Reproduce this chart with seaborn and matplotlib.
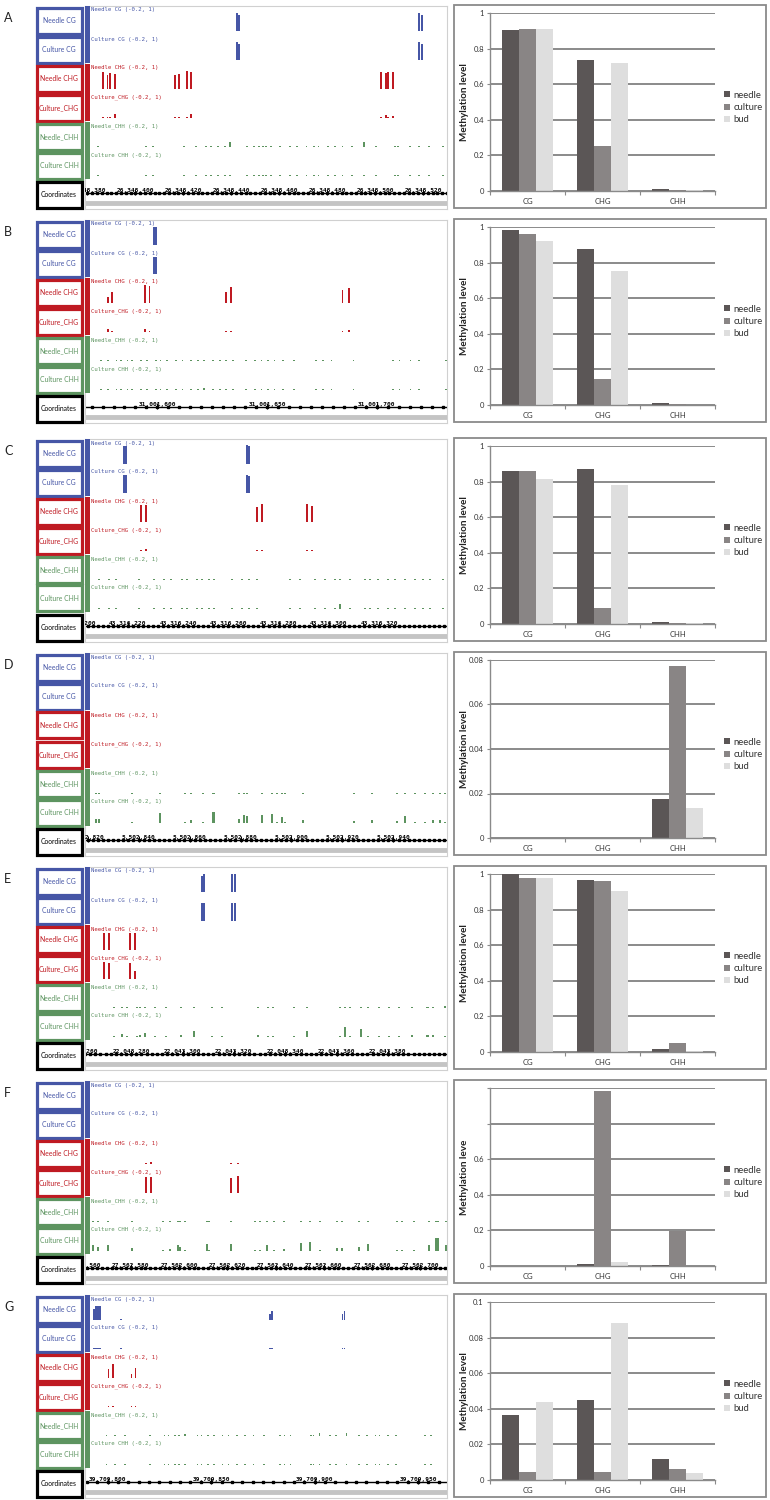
import numpy as np
import pandas as pd
import matplotlib
matplotlib.use("Agg")
import matplotlib.pyplot as plt
from matplotlib.patches import Rectangle
import seaborn as sns

# ---- bar chart data (methylation level per context) ----
contexts = ["CG", "CHG", "CHH"]
tissues = ["needle", "culture", "bud"]
tissue_colors = ["#5b5656", "#898585", "#dedede"]

A_needle = [0.906, 0.737, 0.009]
A_culture = [0.908, 0.254, 0.007]
A_bud = [0.910, 0.718, 0.005]
B_needle = [0.984, 0.879, 0.009]
B_culture = [0.963, 0.146, 0.003]
B_bud = [0.922, 0.755, 0.002]
C_needle = [0.858, 0.873, 0.009]
C_culture = [0.861, 0.090, 0.008]
C_bud = [0.817, 0.780, 0.005]
D_needle = [0.0, 0.0, 0.0176]
D_culture = [0.0, 0.0, 0.0773]
D_bud = [0.0, 0.0, 0.0136]
E_needle = [1.0, 0.966, 0.015]
E_culture = [0.978, 0.960, 0.050]
E_bud = [0.980, 0.905, 0.004]
F_needle = [0.0, 0.011, 0.004]
F_culture = [0.0, 0.983, 0.198]
F_bud = [0.0, 0.021, 0.0]
G_needle = [0.0363, 0.0450, 0.0119]
G_culture = [0.0043, 0.0047, 0.0063]
G_bud = [0.0441, 0.0883, 0.0041]

# ---- genome browser windows (first base, span in bp) ----
A_start, A_span = 26345379, 151
B_start, B_span = 31001567, 165
C_start, C_span = 43316203, 144
D_start, D_span = 5502819, 142
E_start, E_span = 22043262, 141
F_start, F_span = 27562561, 150
G_start, G_span = 39709789, 175

# ---- browser tracks: site offsets from window start and methylation ----
A_cg_pos = [63, 64, 139, 140]
A_cg_needle = [0.95, 0.85, 0.95, 0.85]
A_cg_culture = [0.95, 0.85, 0.95, 0.85]
A_chg_pos = [7, 9, 10, 12, 37, 39, 42, 44, 123, 125, 126, 128]
A_chg_needle = [0.9, 0.75, 0.85, 0.8, 0.75, 0.8, 0.95, 0.9, 0.9, 0.85, 0.9, 0.9]
A_chg_culture = [0.05, 0.02, 0.02, 0.2, 0.02, 0.02, 0.02, 0.2, 0.02, 0.15, 0.05, 0.12]
A_chh_pos = [5, 25, 28, 41, 46, 50, 52, 55, 58, 60, 67, 70, 72, 74, 75, 77, 81,
             85, 88, 92, 95, 97, 101, 104, 107, 111, 116, 121, 129, 130, 135, 139, 143, 149]
A_chh_needle = [0.04, 0, 0, 0, 0, 0, 0, 0, 0, 0.25, 0, 0, 0, 0, 0, 0, 0,
                0, 0, 0, 0, 0, 0, 0, 0, 0, 0.25, 0, 0, 0, 0, 0, 0, 0]
A_chh_culture = [0.03, 0, 0, 0, 0, 0, 0, 0, 0, 0, 0, 0, 0, 0.06, 0, 0, 0,
                 0, 0, 0, 0, 0, 0, 0, 0, 0, 0, 0, 0, 0, 0, 0, 0, 0]

B_cg_pos = [31, 32]
B_cg_needle = [0.95, 0.95]
B_cg_culture = [0.9, 0.9]
B_chg_pos = [10, 12, 27, 29, 64, 66, 117, 120]
B_chg_needle = [0.3, 0.6, 0.95, 0.9, 0.6, 0.85, 0.7, 0.8]
B_chg_culture = [0.15, 0.05, 0.15, 0.02, 0.02, 0.02, 0.02, 0.12]
B_chh_pos = [7, 10, 14, 16, 19, 21, 25, 28, 32, 34, 37, 41, 44, 48, 51, 54, 58, 61,
             64, 67, 73, 77, 80, 83, 86, 90, 95, 105, 108, 112, 122, 140, 143, 148, 152, 164]
B_chh_needle = [0, 0, 0, 0, 0, 0, 0, 0, 0, 0, 0, 0, 0, 0, 0.06, 0, 0, 0,
                0, 0, 0, 0, 0, 0, 0, 0, 0, 0, 0.06, 0, 0, 0, 0, 0, 0, 0]
B_chh_culture = [0, 0, 0, 0, 0, 0, 0, 0, 0, 0, 0, 0, 0, 0, 0, 0.08, 0, 0,
                 0, 0, 0, 0, 0, 0, 0, 0, 0, 0, 0, 0, 0, 0, 0, 0, 0, 0]

C_cg_pos = [15, 16, 64, 65]
C_cg_needle = [0.95, 0.95, 1.0, 0.95]
C_cg_culture = [0.95, 0.95, 0.95, 0.9]
C_chg_pos = [22, 24, 68, 70, 88, 90]
C_chg_needle = [0.9, 0.9, 0.8, 0.95, 0.95, 0.85]
C_chg_culture = [0.02, 0.12, 0.02, 0.02, 0.02, 0.06]
C_chh_pos = [5, 9, 12, 21, 27, 31, 34, 38, 40, 44, 46, 49, 51, 58, 62, 65, 68,
             81, 85, 91, 95, 99, 101, 105, 111, 113, 116, 120, 123, 127, 131, 134, 137, 142]
C_chh_needle = [0, 0, 0.04, 0, 0, 0, 0, 0, 0, 0, 0, 0, 0, 0, 0, 0, 0,
                0, 0, 0, 0, 0, 0, 0, 0, 0, 0, 0, 0, 0, 0, 0, 0, 0]
C_chh_culture = [0, 0, 0, 0, 0, 0, 0, 0, 0, 0.06, 0, 0, 0, 0, 0, 0, 0,
                 0, 0, 0, 0, 0, 0.25, 0, 0, 0, 0, 0, 0, 0, 0, 0, 0.05, 0]

D_cg_pos = []
D_cg_needle = []
D_cg_culture = []
D_chg_pos = []
D_chg_needle = []
D_chg_culture = []
D_chh_pos = [4, 5, 18, 29, 39, 41, 46, 50, 60, 62, 63, 69, 73, 75, 77, 78, 85,
             105, 112, 122, 125, 129, 133, 136, 139, 141]
D_chh_needle = [0, 0, 0, 0, 0, 0, 0, 0, 0, 0, 0, 0, 0, 0, 0, 0, 0,
                0, 0, 0.05, 0, 0, 0, 0, 0.05, 0]
D_chh_culture = [0.2, 0.2, 0.02, 0.55, 0.02, 0.15, 0.02, 0.6, 0.2, 0.4, 0.35, 0.4, 0.45,
                 0.02, 0.3, 0.02, 0.15, 0.1, 0.15, 0.1, 0.35, 0.02, 0.02, 0.15, 0.15, 0.05]

E_cg_pos = [45, 46, 57, 58]
E_cg_needle = [0.85, 0.95, 0.95, 0.95]
E_cg_culture = [0.95, 0.95, 0.95, 0.95]
E_chg_pos = [7, 9, 17, 19]
E_chg_needle = [0.9, 0.9, 0.9, 0.9]
E_chg_culture = [0.9, 0.85, 0.85, 0.4]
E_chh_pos = [11, 14, 16, 20, 21, 23, 27, 31, 37, 42, 49, 53, 67, 71, 73, 81, 86,
             99, 101, 103, 107, 110, 114, 118, 122, 127, 133, 135, 140]
E_chh_needle = [0, 0, 0, 0, 0, 0, 0, 0, 0, 0, 0, 0, 0, 0, 0, 0, 0,
                0.04, 0, 0, 0, 0, 0, 0, 0, 0, 0, 0, 0.08]
E_chh_culture = [0, 0.15, 0, 0, 0.08, 0.2, 0, 0, 0.12, 0.3, 0, 0.05, 0.1, 0, 0.05, 0, 0.3,
                 0, 0.55, 0, 0.4, 0, 0, 0, 0, 0.08, 0.08, 0.08, 0]

F_cg_pos = []
F_cg_needle = []
F_cg_culture = []
F_chg_pos = [25, 27, 60, 63]
F_chg_needle = [0.02, 0.12, 0.02, 0.02]
F_chg_culture = [0.85, 0.85, 0.8, 0.9]
F_chh_pos = [3, 5, 9, 19, 32, 35, 38, 39, 41, 50, 51, 60, 70, 72, 75, 78, 82, 89,
             93, 97, 104, 106, 113, 117, 129, 131, 136, 142, 145, 146, 149]
F_chh_needle = [0, 0, 0.05, 0, 0, 0, 0, 0, 0, 0, 0, 0, 0, 0, 0.05, 0, 0, 0,
                0, 0, 0, 0, 0, 0, 0, 0, 0, 0, 0, 0, 0]
F_chh_culture = [0.3, 0.2, 0.3, 0.15, 0.02, 0.1, 0.3, 0.2, 0.02, 0.35, 0.02, 0.35, 0.02,
                 0.05, 0.3, 0.02, 0.1, 0.4, 0.5, 0.02, 0.15, 0.15, 0.2, 0.35, 0.05, 0.05,
                 0.02, 0.3, 0.7, 0.7, 0.3]

G_cg_pos = [4, 5, 6, 7, 17, 89, 90, 124, 125]
G_cg_needle = [0.6, 0.75, 0.75, 0.75, 0.04, 0.3, 0.45, 0.3, 0.45]
G_cg_culture = [0.04, 0.03, 0.03, 0, 0.02, 0.05, 0, 0.02, 0]
G_chg_pos = [11, 13, 22, 24]
G_chg_needle = [0.45, 0.75, 0.2, 0.55]
G_chg_culture = [0.02, 0.02, 0.02, 0.02]
G_chh_pos = [10, 14, 19, 31, 38, 40, 43, 45, 48, 54, 56, 59, 62, 66, 69, 73, 77, 81,
             86, 94, 96, 99, 109, 110, 113, 118, 121, 126, 132, 136, 140, 142, 146, 150, 164, 167]
G_chh_needle = [0, 0.04, 0, 0, 0, 0, 0, 0.05, 0.1, 0, 0, 0, 0, 0, 0, 0, 0, 0,
                0, 0, 0, 0, 0, 0, 0.15, 0.05, 0, 0.15, 0, 0, 0, 0.04, 0, 0, 0, 0]
G_chh_culture = [0] * len(G_chh_pos)

# ---- styling ----
sns.set_theme(style="white")
plt.rcParams["font.family"] = ["Lato", "DejaVu Sans"]

W, H = 770, 1500
fig = plt.figure(figsize=(7.7, 15), dpi=100)

BLUE = "#4656a6"
RED = "#bf1a22"
GREEN = "#5d9460"
box_names = ["Needle CG", "Culture CG", "Needle CHG", "Culture_CHG",
             "Needle_CHH", "Culture CHH", "Coordinates"]
box_colors = [BLUE, BLUE, RED, RED, GREEN, GREEN, "black"]
track_titles = ["Needle CG", "Culture CG", "Needle CHG", "Culture_CHG",
                "Needle_CHH", "Culture CHH"]


def px_axes(x0, y0, x1, y1):
    return fig.add_axes([x0 / W, 1 - y1 / H, (x1 - x0) / W, (y1 - y0) / H])


def add_box(x0, y0, x1, y1, color, lw, fill=False):
    fig.add_artist(Rectangle((x0 / W, 1 - y1 / H), (x1 - x0) / W, (y1 - y0) / H,
                             transform=fig.transFigure, fill=fill,
                             facecolor=color if fill else "none",
                             edgecolor=color, linewidth=lw))


def draw_sites(ax, start, pos, vals, track, color):
    if len(pos) == 0:
        return
    base = 6 - track + 0.14
    h = np.maximum(np.array(vals, dtype=float) * 0.65, 0.035)
    ax.bar(start + np.array(pos), h, bottom=base, width=0.8, color=color,
           linewidth=0, align="edge")


rows = [
    ("A", 6, A_start, A_span, 20, 2, A_needle, A_culture, A_bud,
     (A_cg_pos, A_cg_needle, A_cg_culture), (A_chg_pos, A_chg_needle, A_chg_culture),
     (A_chh_pos, A_chh_needle, A_chh_culture)),
    ("B", 220, B_start, B_span, 50, 5, B_needle, B_culture, B_bud,
     (B_cg_pos, B_cg_needle, B_cg_culture), (B_chg_pos, B_chg_needle, B_chg_culture),
     (B_chh_pos, B_chh_needle, B_chh_culture)),
    ("C", 439, C_start, C_span, 20, 2, C_needle, C_culture, C_bud,
     (C_cg_pos, C_cg_needle, C_cg_culture), (C_chg_pos, C_chg_needle, C_chg_culture),
     (C_chh_pos, C_chh_needle, C_chh_culture)),
    ("D", 653, D_start, D_span, 20, 2, D_needle, D_culture, D_bud,
     (D_cg_pos, D_cg_needle, D_cg_culture), (D_chg_pos, D_chg_needle, D_chg_culture),
     (D_chh_pos, D_chh_needle, D_chh_culture)),
    ("E", 867, E_start, E_span, 20, 2, E_needle, E_culture, E_bud,
     (E_cg_pos, E_cg_needle, E_cg_culture), (E_chg_pos, E_chg_needle, E_chg_culture),
     (E_chh_pos, E_chh_needle, E_chh_culture)),
    ("F", 1081, F_start, F_span, 20, 2, F_needle, F_culture, F_bud,
     (F_cg_pos, F_cg_needle, F_cg_culture), (F_chg_pos, F_chg_needle, F_chg_culture),
     (F_chh_pos, F_chh_needle, F_chh_culture)),
    ("G", 1295, G_start, G_span, 50, 5, G_needle, G_culture, G_bud,
     (G_cg_pos, G_cg_needle, G_cg_culture), (G_chg_pos, G_chg_needle, G_chg_culture),
     (G_chh_pos, G_chh_needle, G_chh_culture)),
]

yscales = {
    "A": ([0, 0.2, 0.4, 0.6, 0.8, 1.0], ["0", "0.2", "0.4", "0.6", "0.8", "1"]),
    "B": ([0, 0.2, 0.4, 0.6, 0.8, 1.0], ["0", "0.2", "0.4", "0.6", "0.8", "1"]),
    "C": ([0, 0.2, 0.4, 0.6, 0.8, 1.0], ["0", "0.2", "0.4", "0.6", "0.8", "1"]),
    "D": ([0, 0.02, 0.04, 0.06, 0.08], ["0", "0.02", "0.04", "0.06", "0.08"]),
    "E": ([0, 0.2, 0.4, 0.6, 0.8, 1.0], ["0", "0.2", "0.4", "0.6", "0.8", "1"]),
    "F": ([0, 0.2, 0.4, 0.6, 0.8, 1.0], ["0", "0.2", "0.4", "0.6", "", ""]),
    "G": ([0, 0.02, 0.04, 0.06, 0.08, 0.1], ["0", "0.02", "0.04", "0.06", "0.08", "0.1"]),
}

TH = 29  # track height in px

for (letter, top, start, span, lab_step, dot_step, nd, cu, bd,
     cg, chg, chh) in rows:
    fig.text(4 / W, 1 - (top + 12) / H, letter, fontsize=9, color="#222222",
             ha="left", va="center")

    # label boxes on the left
    for k, (name, col) in enumerate(zip(box_names, box_colors)):
        y0 = top + k * TH + 1.5
        y1 = top + (k + 1) * TH - 1.5
        add_box(36.5, y0, 81.5, y1, col, 2.3)
        fig.text(59 / W, 1 - (y0 + y1) / 2 / H, name, fontsize=4.9, color=col,
                 ha="center", va="center")

    # coloured strips next to the tracks
    for k0, col in [(0, BLUE), (2, RED), (4, GREEN)]:
        add_box(85, top + k0 * TH, 89.5, top + (k0 + 2) * TH - 1, col, 0, fill=True)

    # track panel
    tax = px_axes(85, top, 447, top + 7 * TH)
    tax.set_xlim(start, start + span)
    tax.set_ylim(0, 7)
    tax.set_xticks([])
    tax.set_yticks([])
    for s in tax.spines.values():
        s.set_color("#d0d0d0")
        s.set_linewidth(0.8)

    for ctx, col, k in [(cg, BLUE, 0), (chg, RED, 2), (chh, GREEN, 4)]:
        pos, v_needle, v_culture = ctx
        draw_sites(tax, start, pos, v_needle, k, col)
        draw_sites(tax, start, pos, v_culture, k + 1, col)

    for k, title in enumerate(track_titles):
        col = box_colors[k]
        fig.text(91 / W, 1 - (top + k * TH + 1.5) / H, f"{title} (-0.2, 1)",
                 fontsize=4.1, color=col, family="DejaVu Sans Mono",
                 ha="left", va="top")

    # coordinate ruler
    x0, x1 = start, start + span
    tax.plot([x0, x1], [0.55, 0.55], color="black", lw=1.0)
    dots = np.arange((x0 // dot_step) * dot_step, x1 + 1, dot_step)
    tax.plot(dots, np.full(len(dots), 0.55), "s", ms=1.6, color="black")
    tax.plot([x0, x1], [0.2, 0.2], color="#c4c4c4", lw=3.5, solid_capstyle="butt")
    labs = np.arange((x0 // lab_step) * lab_step, x1 + 1, lab_step)
    labs = labs[(labs >= x0 - 3) & (labs <= x1 - 8)]
    for t in labs:
        tax.vlines(t, 0.5, 0.68, color="black", lw=0.7)
        tax.text(t, 0.56, f"{int(t):,}", fontsize=4.4, weight="bold",
                 family="DejaVu Sans Mono", ha="center", va="bottom",
                 clip_on=True, color="black")

    # methylation bar chart on the right
    add_box(454, top - 1, 766, top + 202, "#8a8a8a", 1.3)
    ax = px_axes(490, top + 7, 715, top + 185)
    df = pd.DataFrame({
        "context": contexts * 3,
        "tissue": np.repeat(tissues, 3),
        "level": list(nd) + list(cu) + list(bd),
    })
    sns.barplot(data=df, x="context", y="level", hue="tissue", hue_order=tissues,
                palette=tissue_colors, saturation=1, width=0.67, errorbar=None,
                linewidth=0, ax=ax)
    ticks, tlabels = yscales[letter]
    ax.set_ylim(0, ticks[-1])
    ax.set_xlim(-0.5, 2.5)
    ax.set_yticks(ticks)
    ax.set_yticklabels(tlabels)
    ax.set_xlabel("")
    ylabel = "Methylation leve" if letter == "F" else "Methylation level"
    ax.set_ylabel(ylabel, fontsize=7.2, weight="bold", color="#222222")
    ax.yaxis.set_label_coords(-0.093, 0.5)
    ax.set_axisbelow(True)
    ax.grid(axis="y", color="#8a8a8a", lw=1.4)
    ax.grid(axis="x", visible=False)
    for side in ["top", "right"]:
        ax.spines[side].set_visible(False)
    for side in ["left", "bottom"]:
        ax.spines[side].set_color("#8a8a8a")
        ax.spines[side].set_linewidth(1.0)
    ax.set_xticks([-0.5, 0.5, 1.5, 2.5], minor=True)
    ax.tick_params(axis="x", which="major", length=0, labelsize=5.5,
                   labelcolor="#333333", pad=5)
    ax.tick_params(axis="x", which="minor", length=3, width=0.8,
                   color="#8a8a8a", bottom=True)
    ax.tick_params(axis="y", length=2.5, width=0.8, color="#8a8a8a", left=True,
                   labelsize=5.5, labelcolor="#333333", pad=2)
    handles, labels = ax.get_legend_handles_labels()
    ax.legend(handles, labels, loc="center left", bbox_to_anchor=(1.025, 0.47),
              borderaxespad=0, frameon=False, fontsize=6.8, handlelength=0.6,
              handleheight=0.6, handletextpad=0.35, labelspacing=0.35,
              labelcolor="#333333")

fig.savefig("out.png", dpi=100)
